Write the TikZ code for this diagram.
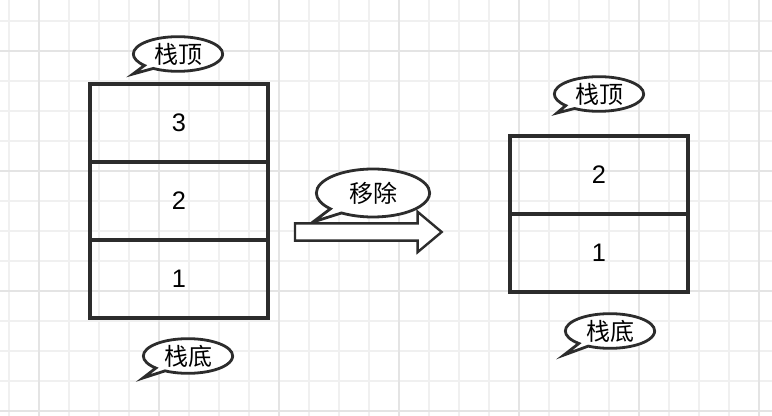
\documentclass[tikz,border=0pt]{standalone}
\usepackage{fontspec}
\setmainfont{Liberation Sans}
\newfontfamily\cjk{Noto Sans CJK SC}
\usepackage{tikz}
\usetikzlibrary{positioning,shapes.callouts,shapes.arrows}
\definecolor{inkc}{HTML}{2C2C2C}
\definecolor{gridl}{HTML}{F0F0F0}
\definecolor{gridd}{HTML}{E4E4E4}
\tikzset{
  cell/.style={draw=inkc,line width=2.6pt,minimum width=133.5pt,minimum height=58.5pt,outer sep=0pt,inner sep=0pt,font=\fontsize{19}{21}\selectfont},
  bubble/.style={ellipse callout,draw=inkc,line width=2.1pt,fill=white,minimum width=67pt,minimum height=26pt,inner sep=0pt,font=\cjk\fontsize{18}{20}\selectfont}
}

\begin{document}
\begin{tikzpicture}[x=0.75pt,y=-0.75pt]
\useasboundingbox (0,0) rectangle (772,416);
\fill[white] (0,0) rectangle (772,416);
% grid paper
\foreach \gx in {9,39,...,769}{\draw[gridl,line width=0.9pt] (\gx,0)--(\gx,416);}
\foreach \gy in {21,51,...,411}{\draw[gridl,line width=0.9pt] (0,\gy)--(772,\gy);}
\foreach \gx in {39,159,...,759}{\draw[gridd,line width=0.9pt] (\gx,0)--(\gx,416);}
\foreach \gy in {51,171,...,411}{\draw[gridd,line width=0.9pt] (0,\gy)--(772,\gy);}

% stack before
\node[cell] (a3) at (179,123) {3};
\node[cell,below=0pt of a3] (a2) {2};
\node[cell,below=0pt of a2] (a1) {1};
\node[bubble,callout absolute pointer={(133,74)}] (atop) at (178,54) {栈顶};
\node[bubble,callout absolute pointer={(143,378)}] (abot) at (188,356) {栈底};

% pop
\node[bubble,minimum width=85pt,minimum height=36pt,callout absolute pointer={(313,222)}] (pop) at (373,193) {移除};
\node[single arrow,draw=inkc,line width=1.8pt,fill=white,inner sep=0pt,inner ysep=5.6pt,outer sep=0pt,
  minimum height=110pt,single arrow head extend=8.6pt,single arrow tip angle=80,anchor=tail] (move) at (295,232) {};

% stack after
\node[cell] (b2) at (599,175) {2};
\node[cell,below=0pt of b2] (b1) {1};
\node[bubble,callout absolute pointer={(557,113)}] (btop) at (599,94) {栈顶};
\node[bubble,callout absolute pointer={(564,355)}] (bbot) at (610,331) {栈底};
\end{tikzpicture}
\end{document}
